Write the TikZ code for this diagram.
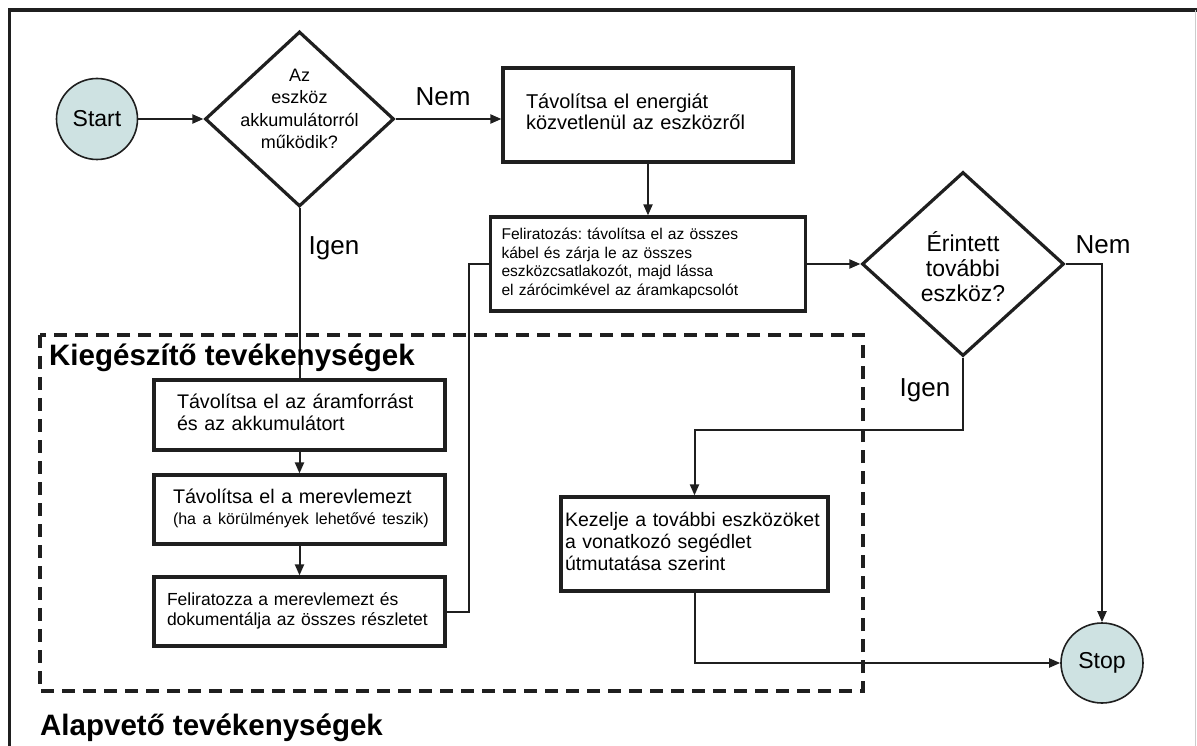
\documentclass[tikz,border=0pt]{standalone}
\usepackage{fontspec}
\setmainfont{Liberation Sans}
\usetikzlibrary{shapes.geometric,arrows.meta}
\frenchspacing

% lines of a box, never broken
\newcommand{\boxlines}[1]{\begin{tabular}{@{}l@{}}#1\end{tabular}}

\begin{document}
\begin{tikzpicture}[x=1pt, y=-1pt,
  stepbox/.style={draw=LineDark, line width=3.2pt, align=left, inner ysep=0pt},
  decision/.style={diamond, draw=LineDark, line width=3.2pt, inner sep=0pt},
  terminal/.style={ellipse, draw=LineDark, line width=1.6pt, fill=TermFill, inner sep=0pt, font=\fontsize{23}{26}\selectfont},
  flow/.style={draw=LineDark, line width=2pt},
  arrowflow/.style={flow, -{Triangle[length=11pt,width=9pt]}},
  answer/.style={font=\fontsize{26}{30}\selectfont},
  grouptitle/.style={anchor=base west, inner sep=0pt, font=\fontsize{29.5}{34}\selectfont\bfseries}]

\definecolor{TermFill}{RGB}{206,226,226}
\colorlet{LineDark}{black!88}

\useasboundingbox (0,0) rectangle (1197,746);

% Frame
\draw[line width=3.8pt, LineDark] (9.5,746) -- (9.5,10) -- (1197,10);
\draw[black!20, line width=1pt] (1195,10) -- (1195,746);

% Dashed group
\draw[line width=3.2pt, dash pattern=on 13pt off 8pt, LineDark] (40,335) rectangle (863,691);

% Terminals and decisions
\node[terminal, minimum width=81pt, minimum height=81pt] (start) at (97,119) {Start};
\node[terminal, minimum width=82pt, minimum height=80pt] (stop) at (1102,663) {Stop};

\node[decision, minimum width=189pt, minimum height=175pt,
      label={[align=center, yshift=10pt, font=\fontsize{18}{22.5}\selectfont]center:Az\\eszköz\\akkumulátorról\\működik?}] (q1) at (299.5,119) {};
\node[decision, minimum width=202pt, minimum height=184pt,
      label={[align=center, yshift=-3pt, font=\fontsize{23}{25}\selectfont]center:Érintett\\további\\eszköz?}] (q2) at (963,264) {};

% Boxes
\node[stepbox, text width=244pt, inner xsep=23pt, minimum height=94pt, font=\fontsize{20}{21}\selectfont] (energy) at (648,115)
  {\boxlines{Távolítsa el energiát\\közvetlenül az eszközről}};
\node[stepbox, text width=293pt, inner xsep=11pt, minimum height=94pt, font=\fontsize{15.6}{18.5}\selectfont] (label) at (648,264)
  {\boxlines{Feliratozás: távolítsa el az összes\\kábel és zárja le az összes\\eszközcsatlakozót, majd lássa\\el zárócimkével az áramkapcsolót}};
\node[stepbox, text width=245pt, inner xsep=23pt, minimum height=70pt, font=\fontsize{19.7}{22}\selectfont] (removepower) at (299.5,415)
  {\boxlines{Távolítsa el az áramforrást\\és az akkumulátort}};
\node[stepbox, text width=253pt, inner xsep=19pt, minimum height=69pt, font=\fontsize{19.7}{21}\selectfont] (removedisk) at (299.5,509.5)
  {\boxlines{Távolítsa el a merevlemezt\\\fontsize{16}{19}\selectfont(ha a körülmények lehetővé teszik)}};
\node[stepbox, text width=265pt, inner xsep=13pt, minimum height=69pt, font=\fontsize{17.5}{20.5}\selectfont] (labeldisk) at (299.5,611.5)
  {\boxlines{Feliratozza a merevlemezt és\\dokumentálja az összes részletet}};
\node[stepbox, text width=259pt, inner xsep=4pt, minimum height=94pt, font=\fontsize{19.5}{22}\selectfont] (otherdev) at (694.5,544)
  {\boxlines{Kezelje a további eszközöket\\a vonatkozó segédlet\\útmutatása szerint}};

% Connectors
\draw[arrowflow] (start) -- (q1);
\draw[arrowflow] (q1.east) -- (q1.east -| energy.west);
\draw[arrowflow] (energy) -- (label);
\draw[arrowflow] (label.east) -- (q2.west);
\draw[arrowflow] (q2.east) -| (stop.north);
\draw[flow] (q1.south) -- (q1.south |- removepower.north);
\draw[arrowflow] (removepower) -- (removedisk);
\draw[arrowflow] (removedisk) -- (labeldisk);
\draw[flow] (labeldisk.east) -- ++(22,0) |- (label.west);
\draw[arrowflow] (q2.south) -- ++(0,72) -| (otherdev.north);
\draw[arrowflow] (otherdev.south) |- (stop.west);

% Labels
\node[answer] (nemA) at (443,97) {Nem};
\node[answer] (igenA) at (334,248) {Igen};
\node[answer] (nemB) at (1103,245) {Nem};
\node[answer] (igenB) at (925,390) {Igen};

\node[grouptitle] (extra) at (49,365) {Kiegészítő tevékenységek};
\node[grouptitle] (basic) at (40,735) {Alapvető tevékenységek};

\end{tikzpicture}
\end{document}
